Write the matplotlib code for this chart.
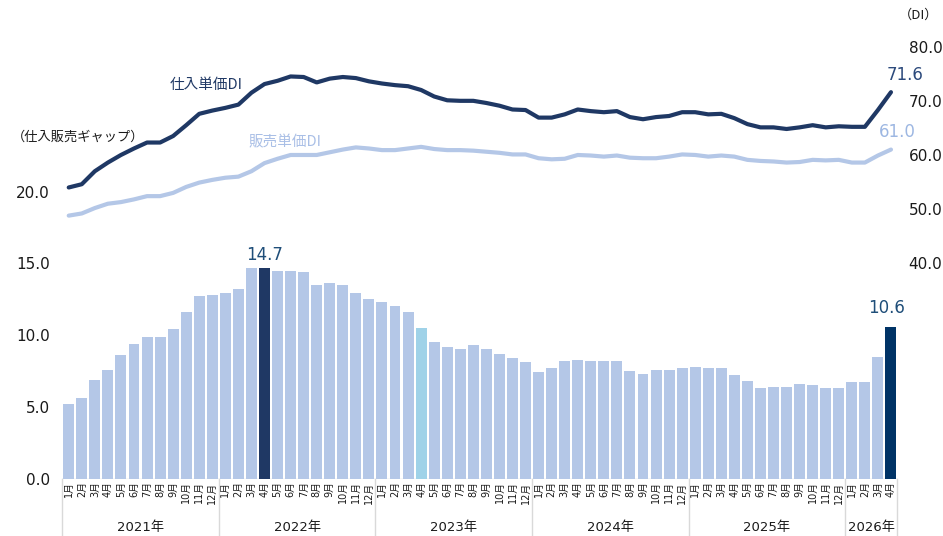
import matplotlib
matplotlib.use("Agg")
import matplotlib.pyplot as plt
import matplotlib.transforms as mtransforms
from matplotlib.lines import Line2D

plt.rcParams['font.family'] = ['Noto Sans CJK JP', 'DejaVu Sans']

years = ["2021年", "2022年", "2023年", "2024年", "2025年", "2026年"]
months_per_year = [12, 12, 12, 12, 12, 4]
month_labels = [f"{m}月" for n in months_per_year for m in range(1, n + 1)]

gap = [5.2, 5.6, 6.9, 7.6, 8.6, 9.4, 9.9, 9.9, 10.4, 11.6, 12.7, 12.8,
       12.9, 13.2, 14.7, 14.7, 14.5, 14.5, 14.4, 13.5, 13.6, 13.5, 12.9, 12.5,
       12.3, 12.0, 11.6, 10.5, 9.5, 9.2, 9.0, 9.3, 9.0, 8.7, 8.4, 8.1,
       7.4, 7.7, 8.2, 8.3, 8.2, 8.2, 8.2, 7.5, 7.3, 7.6, 7.6, 7.7,
       7.8, 7.7, 7.7, 7.2, 6.8, 6.3, 6.4, 6.4, 6.6, 6.5, 6.3, 6.3,
       6.7, 6.7, 8.5, 10.6]

purchase_di = [54.0, 54.6, 57.0, 58.6, 60.0, 61.2, 62.3, 62.3, 63.5, 65.5, 67.6, 68.2,
               68.7, 69.3, 71.5, 73.1, 73.7, 74.5, 74.4, 73.4, 74.1, 74.4, 74.2, 73.6,
               73.2, 72.9, 72.7, 72.0, 70.8, 70.1, 70.0, 70.0, 69.6, 69.1, 68.4, 68.3,
               66.9, 66.9, 67.5, 68.4, 68.1, 67.9, 68.1, 67.0, 66.6, 67.0, 67.2, 67.9,
               67.9, 67.5, 67.6, 66.8, 65.7, 65.1, 65.1, 64.8, 65.1, 65.5, 65.1, 65.3,
               65.2, 65.2, 68.3, 71.6]

sales_di = [48.8, 49.2, 50.2, 51.0, 51.3, 51.8, 52.4, 52.4, 53.0, 54.1, 54.9, 55.4,
            55.8, 56.0, 57.0, 58.5, 59.3, 60.0, 60.0, 60.0, 60.5, 61.0, 61.4, 61.2,
            60.9, 60.9, 61.2, 61.5, 61.1, 60.9, 60.9, 60.8, 60.6, 60.4, 60.1, 60.1,
            59.4, 59.2, 59.3, 60.0, 59.9, 59.7, 59.9, 59.5, 59.4, 59.4, 59.7, 60.1,
            60.0, 59.7, 59.9, 59.7, 59.1, 58.9, 58.8, 58.6, 58.7, 59.1, 59.0, 59.1,
            58.6, 58.6, 59.9, 61.0]

left_ticks = [0, 5, 10, 15, 20]
right_ticks = [40, 50, 60, 70, 80]

LIGHT = "#b4c7e7"
NAVY = "#1f3864"
NAVY2 = "#003366"
CYAN = "#9fd2e8"
TXT = "#1a1a1a"
NUMFONT = ['DejaVu Sans', 'Noto Sans CJK JP']

W, H = 943, 536
fig = plt.figure(figsize=(W / 100, H / 100), dpi=100)
ax_l, ax_r = 62.2, 897.5
ax_b, ax_t = 478.7, 30.0
ax = fig.add_axes([ax_l / W, 1 - ax_b / H, (ax_r - ax_l) / W, (ax_b - ax_t) / H])

n = len(gap)
x = list(range(n))
colors = [LIGHT] * n
colors[15] = NAVY
colors[27] = CYAN
colors[63] = NAVY2
ax.bar(x, gap, width=0.84, color=colors, zorder=2)
ax.set_xlim(-0.5, n - 0.5)
ax.set_ylim(0, 31.25)
ax.axhline(0, color="#d9d9d9", lw=1.0, zorder=1)

for s in ax.spines.values():
    s.set_visible(False)
ax.set_yticks(left_ticks)
ax.set_yticklabels([f"{v:.1f}" for v in left_ticks], fontsize=11,
                   family=NUMFONT, color=TXT)
ax.tick_params(axis='y', length=0, pad=9)
ax.set_xticks(x)
ax.set_xticklabels(month_labels, rotation=90, fontsize=7,
                   family=NUMFONT, color=TXT)
ax.tick_params(axis='x', length=0, pad=2)

# year separators and labels
trans = mtransforms.blended_transform_factory(ax.transData, ax.transAxes)
bounds = [-0.5]
for m in months_per_year:
    bounds.append(bounds[-1] + m)
for b in bounds:
    ax.add_line(Line2D([b, b], [0, -0.128], transform=trans, color="#d9d9d9",
                       lw=1.0, clip_on=False))
for i, yl in enumerate(years):
    ax.text((bounds[i] + bounds[i + 1]) / 2, -0.108, yl, transform=trans,
            ha='center', va='center', fontsize=9.5, color=TXT, family=NUMFONT)

# value labels on bars
ax.annotate(f"{gap[15]:.1f}", (15, gap[15]), xytext=(0, 9), textcoords='offset points',
            ha='center', va='center', fontsize=12, color="#1f4e79",
            family=['DejaVu Sans'])
ax.annotate(f"{gap[63]:.1f}", (63, gap[63]), xytext=(-3.5, 13.5), textcoords='offset points',
            ha='center', va='center', fontsize=12, color="#1f4e79",
            family=['DejaVu Sans'])

# right axis with lines
ax2 = ax.twinx()
ax2.set_ylim(0.22, 83.08)
ax2.set_xlim(-0.5, n - 0.5)
ax2.plot(x, sales_di, color=LIGHT, lw=3.0, solid_capstyle='round', zorder=3)
ax2.plot(x, purchase_di, color=NAVY, lw=3.0, solid_capstyle='round', zorder=4)
for s in ax2.spines.values():
    s.set_visible(False)
ax2.set_yticks(right_ticks)
ax2.set_yticklabels([f"{v:.1f}" for v in right_ticks], fontsize=11,
                    family=NUMFONT, color=TXT)
ax2.tick_params(axis='y', length=0, pad=8)

ax2.annotate(f"{purchase_di[-1]:.1f}", (63, purchase_di[-1]), xytext=(10.5, 12),
             textcoords='offset points', ha='center', va='center', fontsize=12,
             color="#2c4a7c", family=['DejaVu Sans'])
ax2.annotate(f"{sales_di[-1]:.1f}", (63, sales_di[-1]), xytext=(4.5, 13),
             textcoords='offset points', ha='center', va='center', fontsize=12,
             color="#9db7e2", family=['DejaVu Sans'])

# series labels and axis titles
fig.text(170 / W, 1 - 85 / H, "仕入単価DI", ha='left', va='center', fontsize=10.5,
         color=NAVY)
fig.text(249 / W, 1 - 142 / H, "販売単価DI", ha='left', va='center', fontsize=10.5,
         color="#a9bfe6")
fig.text(12 / W, 1 - 137 / H, "（仕入販売ギャップ）", ha='left', va='center',
         fontsize=9.5, color=TXT)
fig.text(938 / W, 1 - 15 / H, "（DI）", ha='right', va='center', fontsize=9.5,
         color=TXT)

fig.savefig("out.png", dpi=100)
